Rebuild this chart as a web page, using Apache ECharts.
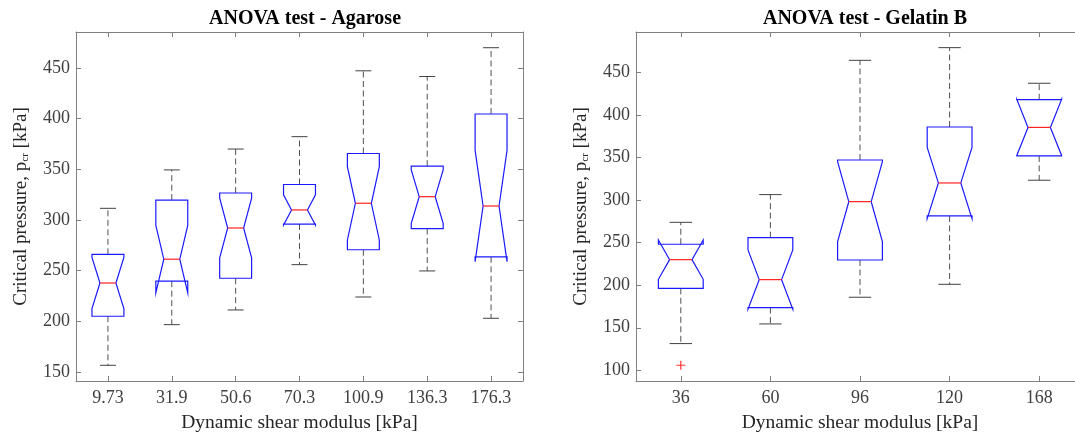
<!DOCTYPE html>
<html>
<head>
<meta charset="utf-8">
<script src="https://cdn.jsdelivr.net/npm/echarts@6/dist/echarts.min.js"></script>
<style>
html,body{margin:0;padding:0;background:#fff;}
#chart{width:1075px;height:434px;}
</style>
</head>
<body>
<div id="chart"></div>
<script>
// ---------- Agarose ----------
const agaroseCats    = ['9.73', '31.9', '50.6', '70.3', '100.9', '136.3', '176.3'];
const agaroseLowW    = [156.6, 196.7, 211.2, 255.9, 224.0, 249.7, 203.0];
const agaroseQ1      = [205.0, 239.6, 242.5, 296.0, 270.6, 291.5, 263.6];
const agaroseNotchLo = [212.5, 228.0, 262.7, 294.9, 280.3, 296.7, 258.9];
const agaroseMedian  = [237.8, 261.3, 292.1, 309.9, 316.5, 323.0, 313.8];
const agaroseNotchHi = [263.1, 294.6, 321.5, 324.9, 352.7, 349.3, 368.7];
const agaroseQ3      = [266.1, 319.6, 326.6, 335.0, 365.6, 353.1, 404.6];
const agaroseHighW   = [311.5, 349.4, 370.0, 382.2, 447.2, 441.6, 470.0];
const agaroseOutliers = [];
const agaroseYMin = 141.1, agaroseYMax = 485.5;

// ---------- Gelatin B ----------
const gelatinCats    = ['36', '60', '96', '120', '168'];
const gelatinLowW    = [131.4, 154.5, 185.9, 201.1, 323.5];
const gelatinQ1      = [196.4, 173.7, 229.7, 281.5, 352.1];
const gelatinNotchLo = [207.0, 171.7, 251.3, 278.4, 352.6];
const gelatinMedian  = [230.1, 206.6, 298.3, 320.3, 385.6];
const gelatinNotchHi = [253.2, 241.5, 345.3, 362.2, 418.6];
const gelatinQ3      = [248.2, 256.0, 347.3, 386.1, 418.2];
const gelatinHighW   = [274.0, 306.6, 464.5, 479.4, 437.5];
const gelatinOutliers = [[0, 105.9]];
const gelatinYMin = 87.4, gelatinYMax = 497.8;

const FONT = '"Liberation Serif", "Times New Roman", serif';
const AXIS_COLOR = '#808080';
const LABEL_COLOR = '#404040';

function boxData(lowW, q1, nLo, med, nHi, q3, hiW) {
  return med.map((m, i) => [i, lowW[i], q1[i], nLo[i], m, nHi[i], q3[i], hiW[i]]);
}

function renderBox(params, api) {
  const i = api.value(0);
  const lowW = api.value(1), q1 = api.value(2), nLo = api.value(3),
        med = api.value(4), nHi = api.value(5), q3 = api.value(6), hiW = api.value(7);
  const band = api.size([1, 0])[0];
  const half = band * 0.25;
  const narrow = band * 0.125;
  const capHalf = band * 0.125;
  const x = api.coord([i, med])[0];
  const y = v => api.coord([i, v])[1];
  const xl = x - half, xr = x + half;
  const dashStyle = { stroke: '#505050', lineWidth: 1, lineDash: [6, 3.5], fill: null };
  const capStyle = { stroke: '#404040', lineWidth: 1, fill: null };
  return {
    type: 'group',
    children: [
      { type: 'line', shape: { x1: x, y1: y(q3), x2: x, y2: y(hiW) }, style: dashStyle },
      { type: 'line', shape: { x1: x, y1: y(q1), x2: x, y2: y(lowW) }, style: dashStyle },
      { type: 'line', shape: { x1: x - capHalf, y1: y(hiW), x2: x + capHalf, y2: y(hiW) }, style: capStyle },
      { type: 'line', shape: { x1: x - capHalf, y1: y(lowW), x2: x + capHalf, y2: y(lowW) }, style: capStyle },
      { type: 'polygon', shape: { points: [
          [xl, y(q3)], [xr, y(q3)], [xr, y(nHi)], [x + narrow, y(med)], [xr, y(nLo)], [xr, y(q1)],
          [xl, y(q1)], [xl, y(nLo)], [x - narrow, y(med)], [xl, y(nHi)]
        ] }, style: { stroke: '#1a1aff', lineWidth: 1.2, fill: null } },
      { type: 'line', shape: { x1: x - narrow, y1: y(med), x2: x + narrow, y2: y(med) },
        style: { stroke: '#ff2020', lineWidth: 1.2 } }
    ]
  };
}

function xAxes(cats, gridIndex) {
  const base = {
    type: 'category', data: cats, gridIndex: gridIndex, boundaryGap: true,
    axisLine: { show: true, lineStyle: { color: AXIS_COLOR, width: 1 } },
    axisTick: { show: true, inside: true, alignWithLabel: true, length: 5, lineStyle: { color: AXIS_COLOR } },
    splitLine: { show: false }
  };
  return [
    Object.assign({}, base, {
      position: 'bottom',
      axisLabel: { show: true, margin: 8, color: LABEL_COLOR, fontFamily: FONT, fontSize: 18 },
      name: 'Dynamic shear modulus [kPa]', nameLocation: 'middle', nameGap: 32,
      nameTextStyle: { color: '#262626', fontFamily: FONT, fontSize: 19.5 }
    }),
    Object.assign({}, base, { position: 'top', axisLabel: { show: false } })
  ];
}

function yAxes(min, max, gridIndex, splitNumber) {
  const base = {
    type: 'value', gridIndex: gridIndex, min: min, max: max, splitNumber: splitNumber,
    axisLine: { show: true, lineStyle: { color: AXIS_COLOR, width: 1 } },
    axisTick: { show: true, inside: true, length: 5, lineStyle: { color: AXIS_COLOR } },
    splitLine: { show: false }
  };
  return [
    Object.assign({}, base, {
      position: 'left',
      axisLabel: { show: true, margin: 6, color: LABEL_COLOR, fontFamily: FONT, fontSize: 18,
                   showMinLabel: false, showMaxLabel: false,
                   formatter: v => (Math.abs(v % 50) < 1e-6 ? String(v) : '') },
      name: 'Critical pressure, p{sub|cr} [kPa]', nameLocation: 'middle', nameRotate: 90, nameGap: 45,
      nameTextStyle: { color: '#262626', fontFamily: FONT, fontSize: 19,
        rich: { sub: { fontFamily: FONT, fontSize: 11, color: '#262626', verticalAlign: 'bottom', padding: [6, 0, 0, 0] } } }
    }),
    Object.assign({}, base, { position: 'right', axisLabel: { show: false } })
  ];
}

const chart = echarts.init(document.getElementById('chart'), null, { renderer: 'canvas' });
const xa = xAxes(agaroseCats, 0).concat(xAxes(gelatinCats, 1));
const ya = yAxes(agaroseYMin, agaroseYMax, 0, 7).concat(yAxes(gelatinYMin, gelatinYMax, 1, 8));

const plusSymbol = 'path://M0,5 L10,5 M5,0 L5,10';

chart.setOption({
  animation: false,
  backgroundColor: '#ffffff',
  title: [
    { text: 'ANOVA test - Agarose', left: 300, top: 4, textAlign: 'center',
      textStyle: { fontFamily: FONT, fontWeight: 'bold', fontSize: 20, color: '#000' } },
    { text: 'ANOVA test - Gelatin B', left: 860, top: 4, textAlign: 'center',
      textStyle: { fontFamily: FONT, fontWeight: 'bold', fontSize: 20, color: '#000' } }
  ],
  grid: [
    { left: 76, top: 32, width: 447, height: 349, show: false, outerBoundsMode: 'none', containLabel: false },
    { left: 636, top: 32, width: 448, height: 349, show: false, outerBoundsMode: 'none', containLabel: false }
  ],
  xAxis: xa,
  yAxis: ya,
  series: [
    { type: 'custom', xAxisIndex: 0, yAxisIndex: 0, renderItem: renderBox,
      encode: { x: 0, y: [1, 2, 3, 4, 5, 6, 7] }, clip: false,
      data: boxData(agaroseLowW, agaroseQ1, agaroseNotchLo, agaroseMedian, agaroseNotchHi, agaroseQ3, agaroseHighW) },
    { type: 'custom', xAxisIndex: 2, yAxisIndex: 2, renderItem: renderBox,
      encode: { x: 0, y: [1, 2, 3, 4, 5, 6, 7] }, clip: false,
      data: boxData(gelatinLowW, gelatinQ1, gelatinNotchLo, gelatinMedian, gelatinNotchHi, gelatinQ3, gelatinHighW) },
    { type: 'scatter', xAxisIndex: 2, yAxisIndex: 2, symbol: plusSymbol, symbolSize: 9,
      itemStyle: { color: 'none', borderColor: '#ff0000', borderWidth: 1.2 },
      data: gelatinOutliers },
    { type: 'scatter', xAxisIndex: 0, yAxisIndex: 0, symbol: plusSymbol, symbolSize: 9,
      itemStyle: { color: 'none', borderColor: '#ff0000', borderWidth: 1.2 },
      data: agaroseOutliers }
  ]
});
</script>
</body>
</html>
